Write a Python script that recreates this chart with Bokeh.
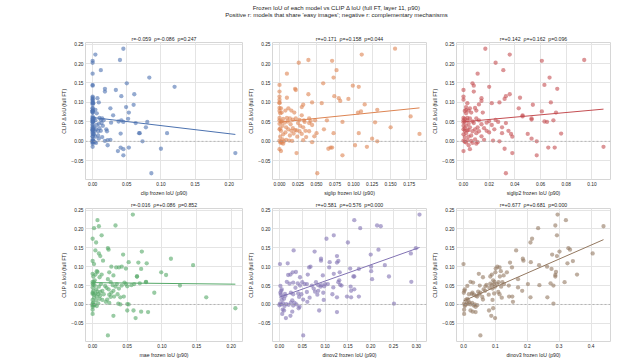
import numpy as np
from bokeh.plotting import figure
from bokeh.layouts import column, row
from bokeh.models import Range1d, FixedTicker, CustomJSTickFormatter, Span
from bokeh.core.properties import value
from bokeh.embed import file_html
from bokeh.resources import INLINE

FONT = "Liberation Sans"
TXT = "#262626"
SP2 = "\u00a0\u00a0"

suptitle_lines = [
    "Frozen IoU of each model vs CLIP \u0394 IoU (full FT, layer 11, p90)",
    "Positive r: models that share 'easy images'; negative r: complementary mechanisms",
]

# shared y: CLIP delta IoU per image
clip_delta_iou = [
    0.238, 0.223, 0.209, 0.207, 0.202, 0.183, 0.174, 0.164, 0.149, 0.145,
    0.143, 0.140, 0.135, 0.132, 0.128, 0.121, 0.116, 0.115, 0.112, 0.111,
    0.109, 0.107, 0.104, 0.100, 0.100, 0.098, 0.098, 0.095, 0.094, 0.088,
    0.086, 0.085, 0.085, 0.081, 0.079, 0.079, 0.078, 0.077, 0.074, 0.074,
    0.074, 0.072, 0.067, 0.064, 0.060, 0.060, 0.059, 0.059, 0.059, 0.058,
    0.056, 0.055, 0.054, 0.054, 0.054, 0.054, 0.052, 0.051, 0.051, 0.050,
    0.050, 0.050, 0.049, 0.048, 0.047, 0.047, 0.045, 0.044, 0.042, 0.040,
    0.040, 0.036, 0.036, 0.036, 0.034, 0.033, 0.031, 0.031, 0.031, 0.029,
    0.028, 0.027, 0.027, 0.027, 0.026, 0.026, 0.023, 0.021, 0.021, 0.021,
    0.020, 0.019, 0.019, 0.018, 0.015, 0.013, 0.012, 0.012, 0.011, 0.007,
    0.005, 0.004, 0.003, 0.002, 0.002, 0.001, 0.000, 0.000, -0.001, -0.002,
    -0.003, -0.004, -0.006, -0.010, -0.014, -0.016, -0.016, -0.019, -0.020, -0.025,
    -0.030, -0.036, -0.082,
]

clip_x = [
    0.045, 0.004, 0.040, 0.000, 0.000, 0.012, 0.000, 0.083, 0.050, 0.000,
    0.000, 0.120, 0.018, 0.034, 0.018, 0.061, 0.042, 0.000, 0.000, 0.007,
    0.000, 0.000, 0.000, 0.009, 0.000, 0.000, 0.001, 0.000, 0.060, 0.049,
    0.000, 0.026, 0.000, 0.004, 0.000, 0.000, 0.000, 0.000, 0.000, 0.053,
    0.000, 0.006, 0.030, 0.000, 0.000, 0.010, 0.002, 0.000, 0.014, 0.052,
    0.000, 0.012, 0.000, 0.004, 0.016, 0.042, 0.000, 0.038, 0.001, 0.080,
    0.000, 0.045, 0.000, 0.027, 0.013, 0.063, 0.009, 0.000, 0.006, 0.015,
    0.000, 0.078, 0.000, 0.002, 0.010, 0.000, 0.020, 0.000, 0.005, 0.000,
    0.000, 0.003, 0.012, 0.000, 0.021, 0.008, 0.000, 0.068, 0.109, 0.069,
    0.041, 0.000, 0.002, 0.001, 0.008, 0.000, 0.004, 0.000, 0.014, 0.009,
    0.000, 0.026, 0.022, 0.001, 0.000, 0.018, 0.073, 0.000, 0.000, 0.003,
    0.000, 0.005, 0.000, 0.022, 0.000, 0.053, 0.041, 0.100, 0.045, 0.037,
    0.209, 0.045, 0.086,
]

siglip_x = [
    0.156, 0.111, 0.039, 0.071, 0.026, 0.077, 0.010, 0.073, 0.059, 0.000,
    0.099, 0.107, 0.021, 0.022, 0.000, 0.039, 0.074, 0.000, 0.010, 0.080,
    0.093, 0.000, 0.082, 0.000, 0.044, 0.057, 0.000, 0.115, 0.032, 0.030,
    0.000, 0.002, 0.012, 0.132, 0.008, 0.016, 0.000, 0.110, 0.106, 0.020,
    0.003, 0.001, 0.030, 0.177, 0.000, 0.010, 0.040, 0.014, 0.022, 0.005,
    0.018, 0.027, 0.033, 0.000, 0.048, 0.064, 0.042, 0.011, 0.003, 0.085,
    0.002, 0.034, 0.129, 0.007, 0.040, 0.025, 0.000, 0.015, 0.044, 0.028,
    0.004, 0.150, 0.009, 0.032, 0.018, 0.001, 0.060, 0.000, 0.012, 0.021,
    0.023, 0.035, 0.002, 0.016, 0.027, 0.040, 0.008, 0.073, 0.107, 0.050,
    0.019, 0.189, 0.030, 0.005, 0.014, 0.047, 0.024, 0.001, 0.036, 0.125,
    0.004, 0.009, 0.032, 0.000, 0.013, 0.017, 0.132, 0.006, 0.002, 0.044,
    0.001, 0.003, 0.005, 0.102, 0.118, 0.069, 0.071, 0.066, 0.000, 0.002,
    0.023, 0.085, 0.051,
]

siglip2_x = [
    0.017, 0.036, 0.094, 0.061, 0.025, 0.031, 0.011, 0.067, 0.007, 0.063,
    0.008, 0.020, 0.073, 0.000, 0.008, 0.036, 0.033, 0.000, 0.044, 0.014,
    0.032, 0.000, 0.014, 0.068, 0.028, 0.003, 0.022, 0.012, 0.054, 0.002,
    0.009, 0.043, 0.005, 0.002, 0.004, 0.010, 0.001, 0.061, 0.072, 0.006,
    0.015, 0.002, 0.046, 0.046, 0.000, 0.003, 0.053, 0.010, 0.005, 0.001,
    0.053, 0.025, 0.003, 0.070, 0.012, 0.000, 0.020, 0.007, 0.063, 0.065,
    0.001, 0.027, 0.000, 0.018, 0.033, 0.008, 0.004, 0.014, 0.022, 0.002,
    0.000, 0.030, 0.011, 0.005, 0.016, 0.001, 0.024, 0.000, 0.009, 0.004,
    0.003, 0.035, 0.018, 0.001, 0.012, 0.007, 0.020, 0.010, 0.030, 0.002,
    0.076, 0.050, 0.037, 0.000, 0.006, 0.014, 0.038, 0.004, 0.001, 0.053,
    0.009, 0.016, 0.003, 0.023, 0.000, 0.006, 0.028, 0.057, 0.001, 0.011,
    0.002, 0.007, 0.010, 0.004, 0.109, 0.071, 0.066, 0.032, 0.005, 0.000,
    0.038, 0.057, 0.033,
]

mae_x = [
    0.058, 0.007, 0.033, 0.009, 0.002, 0.013, 0.000, 0.005, 0.022, 0.023,
    0.004, 0.071, 0.009, 0.044, 0.011, 0.113, 0.015, 0.000, 0.052, 0.066,
    0.078, 0.002, 0.145, 0.027, 0.042, 0.034, 0.038, 0.048, 0.070, 0.006,
    0.007, 0.099, 0.024, 0.000, 0.013, 0.004, 0.106, 0.030, 0.064, 0.001,
    0.064, 0.010, 0.022, 0.003, 0.077, 0.000, 0.026, 0.077, 0.002, 0.046,
    0.068, 0.000, 0.012, 0.048, 0.060, 0.035, 0.001, 0.029, 0.056, 0.126,
    0.003, 0.042, 0.018, 0.050, 0.009, 0.033, 0.000, 0.020, 0.038, 0.005,
    0.023, 0.001, 0.014, 0.030, 0.007, 0.011, 0.089, 0.000, 0.027, 0.004,
    0.000, 0.016, 0.036, 0.008, 0.002, 0.024, 0.011, 0.031, 0.006, 0.045,
    0.026, 0.164, 0.040, 0.002, 0.010, 0.021, 0.000, 0.014, 0.005, 0.019,
    0.001, 0.024, 0.008, 0.037, 0.000, 0.050, 0.052, 0.040, 0.003, 0.000,
    0.002, 0.006, 0.000, 0.206, 0.000, 0.050, 0.059, 0.070, 0.080, 0.000,
    0.030, 0.062, 0.022,
]

dinov2_x = [
    0.307, 0.164, 0.214, 0.222, 0.177, 0.119, 0.103, 0.150, 0.299, 0.217,
    0.031, 0.077, 0.288, 0.200, 0.126, 0.091, 0.091, 0.129, 0.110, 0.126,
    0.018, 0.001, 0.231, 0.068, 0.201, 0.065, 0.109, 0.155, 0.174, 0.201,
    0.036, 0.132, 0.029, 0.119, 0.024, 0.062, 0.019, 0.095, 0.162, 0.240,
    0.164, 0.045, 0.203, 0.131, 0.016, 0.289, 0.129, 0.050, 0.080, 0.030,
    0.040, 0.022, 0.055, 0.060, 0.100, 0.106, 0.133, 0.092, 0.085, 0.136,
    0.045, 0.071, 0.002, 0.098, 0.156, 0.090, 0.118, 0.035, 0.075, 0.164,
    0.005, 0.004, 0.157, 0.085, 0.078, 0.060, 0.002, 0.025, 0.096, 0.041,
    0.012, 0.030, 0.116, 0.048, 0.003, 0.083, 0.013, 0.148, 0.174, 0.006,
    0.043, 0.126, 0.157, 0.066, 0.010, 0.052, 0.097, 0.005, 0.028, 0.061,
    0.025, 0.033, 0.008, 0.251, 0.001, 0.015, 0.004, 0.037, 0.020, 0.000,
    0.030, 0.011, 0.044, 0.042, 0.007, 0.010, 0.087, 0.028, 0.126, 0.006,
    0.024, 0.014, 0.052,
]

dinov3_x = [
    0.295, 0.321, 0.288, 0.439, 0.234, 0.293, 0.215, 0.210, 0.329, 0.334,
    0.165, 0.301, 0.405, 0.278, 0.293, 0.186, 0.188, 0.343, 0.211, 0.146,
    0.326, 0.000, 0.237, 0.106, 0.262, 0.113, 0.152, 0.101, 0.276, 0.117,
    0.290, 0.100, 0.136, 0.048, 0.089, 0.356, 0.288, 0.126, 0.084, 0.114,
    0.288, 0.061, 0.171, 0.093, 0.022, 0.097, 0.122, 0.317, 0.110, 0.030,
    0.273, 0.084, 0.096, 0.127, 0.202, 0.106, 0.072, 0.089, 0.238, 0.051,
    0.142, 0.282, 0.012, 0.069, 0.099, 0.118, 0.171, 0.081, 0.091, 0.063,
    0.004, 0.003, 0.184, 0.068, 0.046, 0.109, 0.001, 0.028, 0.053, 0.096,
    0.026, 0.017, 0.113, 0.049, 0.033, 0.079, 0.039, 0.143, 0.153, 0.043,
    0.059, 0.210, 0.263, 0.120, 0.012, 0.061, 0.091, 0.007, 0.015, 0.155,
    0.018, 0.027, 0.010, 0.282, 0.002, 0.014, 0.022, 0.035, 0.006, 0.043,
    0.032, 0.004, 0.038, 0.093, 0.002, 0.022, 0.080, 0.029, 0.038, 0.002,
    0.087, 0.099, 0.053,
]

model_names = ["clip", "siglip", "siglip2", "mae", "dinov2", "dinov3"]
model_x = [clip_x, siglip_x, siglip2_x, mae_x, dinov2_x, dinov3_x]
panel_titles = [
    f"r=-0.059{SP2}\u03c1=-0.086{SP2}p=0.247",
    f"r=+0.171{SP2}\u03c1=+0.158{SP2}p=0.044",
    f"r=+0.142{SP2}\u03c1=+0.162{SP2}p=0.096",
    f"r=-0.016{SP2}\u03c1=+0.086{SP2}p=0.852",
    f"r=+0.581{SP2}\u03c1=+0.576{SP2}p=0.000",
    f"r=+0.677{SP2}\u03c1=+0.681{SP2}p=0.000",
]
panel_colors = ["#4C72B0", "#DD8452", "#C44E52", "#55A868", "#8172B3", "#937860"]
x_ticks = [
    [0.0, 0.05, 0.10, 0.15, 0.20],
    [0.0, 0.025, 0.05, 0.075, 0.10, 0.125, 0.15, 0.175],
    [0.0, 0.02, 0.04, 0.06, 0.08, 0.10],
    [0.0, 0.05, 0.10, 0.15, 0.20],
    [0.0, 0.05, 0.10, 0.15, 0.20, 0.25, 0.30],
    [0.0, 0.1, 0.2, 0.3, 0.4],
]
x_decimals = [2, 3, 2, 2, 2, 1]
y_ticks = [-0.05, 0.0, 0.05, 0.10, 0.15, 0.20, 0.25]
y_label = "CLIP \u0394 IoU (full FT)"
zero_ref = 0.0

# layout (pixels) -- page has no body margin
col_widths = [245, 184, 188]
col_left = [85, 23, 23]
col_right = [3, 3, 7]
row_heights = [178, 162]
row_top = [22, 9]
row_bottom = 17
title_height = 20


def fmt(dec):
    return CustomJSTickFormatter(code=(
        "const s = Math.abs(tick).toFixed(%d);"
        "return (tick < -1e-12 ? '\\u2212' : '') + s;" % dec))


def panel(i):
    r, c = divmod(i, 3)
    xs = np.array(model_x[i], dtype=float)
    ys = np.array(clip_delta_iou, dtype=float)
    xspan = xs.max() - xs.min()
    yspan = ys.max() - ys.min()
    p = figure(
        width=col_widths[c], height=row_heights[r],
        x_range=Range1d(xs.min() - 0.05 * xspan, xs.max() + 0.05 * xspan),
        y_range=Range1d(ys.min() - 0.05 * yspan, ys.max() + 0.05 * yspan),
        output_backend="svg", toolbar_location=None,
        min_border_left=col_left[c], min_border_right=col_right[c],
        min_border_top=row_top[r], min_border_bottom=row_bottom,
        title=panel_titles[i],
    )
    p.title.align = "center"
    p.title.text_font = FONT
    p.title.text_font_size = "5.2px"
    p.title.text_font_style = "normal"
    p.title.text_color = TXT
    p.title.standoff = 2
    p.outline_line_color = "#d6d6d6"
    p.outline_line_width = 1
    p.background_fill_color = "white"
    p.border_fill_color = "white"

    p.xaxis.ticker = FixedTicker(ticks=x_ticks[i])
    p.yaxis.ticker = FixedTicker(ticks=y_ticks)
    p.xaxis.formatter = fmt(x_decimals[i])
    p.yaxis.formatter = fmt(2)
    p.xaxis.axis_label = f"{model_names[i]} frozen IoU (p90)"
    p.yaxis.axis_label = y_label
    for ax in (p.xaxis, p.yaxis):
        ax.axis_line_color = None
        ax.major_tick_line_color = None
        ax.minor_tick_line_color = None
        ax.major_tick_out = 0
        ax.major_tick_in = 0
        ax.major_label_text_font = FONT
        ax.major_label_text_font_size = "4.8px"
        ax.major_label_text_color = TXT
        ax.axis_label_text_font = FONT
        ax.axis_label_text_font_size = "5.2px"
        ax.axis_label_text_font_style = "normal"
        ax.axis_label_text_color = TXT
        ax.axis_label_standoff = 1
        ax.major_label_standoff = 2
    p.grid.grid_line_color = "#e4e4e4"
    p.grid.grid_line_width = 1

    p.add_layout(Span(location=zero_ref, dimension="width", line_color="#a0a0a0",
                      line_dash="2 2", line_width=0.7))
    p.scatter(xs, ys, size=4.3, fill_color=panel_colors[i], fill_alpha=0.6,
              line_color=None)
    slope, intercept = np.polyfit(xs, ys, 1)
    xl = np.array([xs.min(), xs.max()])
    p.line(xl, slope * xl + intercept, line_color=panel_colors[i], line_width=1)
    return p


t = figure(width=617, height=title_height, x_range=Range1d(0, 617),
           y_range=Range1d(0, title_height),
           output_backend="svg", toolbar_location=None, min_border=0,
           x_axis_location=None, y_axis_location=None)
t.grid.visible = False
t.outline_line_color = None
t.text(x=[336, 336], y=[13, 6], text=suptitle_lines, text_align="center",
       text_baseline="middle", text_font=value(FONT), text_font_size=value("6px"),
       text_color=TXT)

panels = [panel(i) for i in range(6)]
layout = column(t, row(*panels[:3]), row(*panels[3:]))

open("out.html", "w").write(file_html(layout, INLINE))
